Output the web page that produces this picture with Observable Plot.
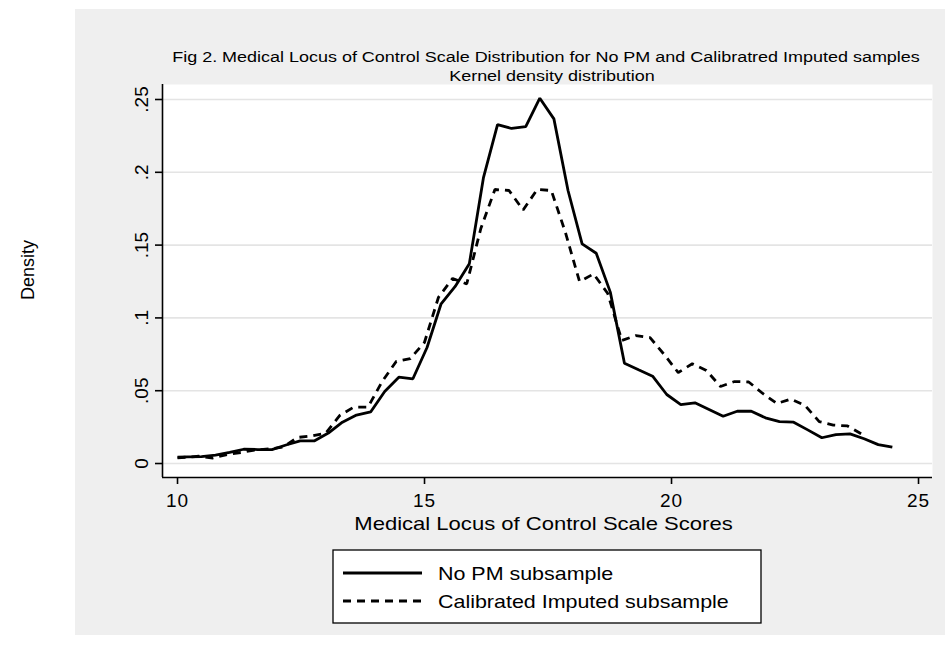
<!DOCTYPE html>
<html><head><meta charset="utf-8">
<script src="https://cdn.jsdelivr.net/npm/d3@7"></script>
<script src="https://cdn.jsdelivr.net/npm/@observablehq/plot@0.6"></script>
<style>
body{margin:0;background:#fff;}
#wrap{position:relative;width:945px;height:645px;background:#fff;overflow:hidden;font-family:"Liberation Sans",Arial,sans-serif;}
#bg{position:absolute;left:75px;top:9px;width:870px;height:626px;background:#efefef;}
#chart{position:absolute;left:0;top:0;}
#ann{position:absolute;left:0;top:0;}
</style></head>
<body><div id="wrap"><div id="bg"></div><div id="chart"></div><svg id="ann" width="945" height="645"></svg></div>
<script>
// Solid curve: No PM subsample (kernel density estimates)
const noPmX = [10.000,10.198,10.484,10.769,11.055,11.340,11.626,11.911,12.196,12.482,12.767,13.053,13.338,13.623,13.909,14.194,14.480,14.765,15.051,15.336,15.621,15.907,16.192,16.478,16.763,17.049,17.334,17.619,17.905,18.190,18.476,18.761,19.047,19.332,19.617,19.903,20.188,20.474,20.759,21.045,21.330,21.615,21.901,22.186,22.472,22.757,23.043,23.328,23.613,23.899,24.184,24.470];
const noPmY = [0.0043,0.0046,0.0048,0.0058,0.0076,0.0098,0.0096,0.0095,0.0127,0.0156,0.0155,0.0209,0.0284,0.0333,0.0354,0.0495,0.0593,0.0582,0.0797,0.1097,0.1216,0.1372,0.1961,0.2328,0.2301,0.2313,0.2509,0.2367,0.1875,0.1509,0.1444,0.1177,0.0689,0.0644,0.0600,0.0474,0.0405,0.0417,0.0371,0.0325,0.0359,0.0359,0.0314,0.0288,0.0284,0.0231,0.0177,0.0199,0.0204,0.0170,0.0130,0.0112];
// Dashed curve: Calibrated Imputed subsample
const calX = [10.000,10.431,10.717,11.002,11.287,11.573,11.858,12.144,12.429,12.715,13.000,13.285,13.571,13.856,14.142,14.427,14.713,14.998,15.283,15.569,15.854,16.140,16.425,16.711,16.996,17.281,17.567,17.852,18.138,18.423,18.709,18.994,19.279,19.565,19.850,20.136,20.421,20.706,20.992,21.277,21.563,21.848,22.134,22.419,22.704,22.990,23.275,23.561,23.846];
const calY = [0.0039,0.0050,0.0038,0.0062,0.0076,0.0093,0.0100,0.0113,0.0179,0.0189,0.0209,0.0330,0.0388,0.0388,0.0563,0.0701,0.0721,0.0831,0.1142,0.1271,0.1233,0.1614,0.1882,0.1875,0.1741,0.1882,0.1875,0.1587,0.1250,0.1302,0.1168,0.0845,0.0879,0.0865,0.0749,0.0625,0.0685,0.0639,0.0529,0.0563,0.0560,0.0481,0.0412,0.0443,0.0398,0.0288,0.0264,0.0258,0.0203];

const yTicks = [0, 0.05, 0.1, 0.15, 0.2, 0.25];
const yTickLabels = ["0", ".05", ".1", ".15", ".2", ".25"];
const xTicks = [10, 15, 20, 25];
const seriesNames = ["No PM subsample", "Calibrated Imputed subsample"];
const titleText = "Fig 2. Medical Locus of Control Scale Distribution for No PM and Calibratred Imputed samples";
const subtitleText = "Kernel density distribution";
const xLabel = "Medical Locus of Control Scale Scores";
const yLabel = "Density";

const xDomain = [9.696, 25.283];
const yDomain = [-0.0096, 0.2603];
const FONT = "Liberation Sans, Arial, sans-serif";

const noPm = noPmX.map((x, i) => ({x, y: noPmY[i]}));
const cal = calX.map((x, i) => ({x, y: calY[i]}));

const chart = Plot.plot({
  width: 945, height: 645,
  marginLeft: 162, marginRight: 13, marginTop: 84, marginBottom: 168,
  style: {background: "transparent", fontFamily: FONT, overflow: "visible"},
  x: {domain: xDomain},
  y: {domain: yDomain},
  marks: [
    Plot.frame({fill: "white", stroke: null}),
    Plot.gridY(yTicks, {stroke: "#e4e4e4", strokeOpacity: 1, strokeWidth: 1.6}),
    Plot.axisY(yTicks, {tickSize: 7, tickFormat: () => "", label: null, stroke: "black", strokeWidth: 1.6}),
    Plot.text(yTicks, {y: d => d, text: (d, i) => yTickLabels[i], frameAnchor: "left", dx: -21, rotate: -90,
      textAnchor: "middle", lineAnchor: "middle", fontSize: 19, fill: "black"}),
    Plot.axisX(xTicks, {tickSize: 7, tickPadding: 9, fontSize: 19, label: null, stroke: "black", strokeWidth: 1.6,
      fill: "black", tickFormat: d => String(d)}),
    Plot.ruleX([xDomain[0]], {stroke: "black", strokeWidth: 1.6}),
    Plot.ruleY([yDomain[0]], {stroke: "black", strokeWidth: 1.6}),
    Plot.line(noPm, {x: "x", y: "y", stroke: "black", strokeWidth: 2.8, strokeLinecap: "butt", strokeLinejoin: "miter"}),
    Plot.line(cal, {x: "x", y: "y", stroke: "black", strokeWidth: 2.8, strokeDasharray: "8,6", strokeLinecap: "butt", strokeLinejoin: "miter"})
  ]
});
d3.select(chart).selectAll("g[aria-label='x-axis tick label'] text").style("letter-spacing", "1px");
document.getElementById("chart").appendChild(chart);

// Annotations: titles, axis titles, legend
const ann = d3.select("#ann").style("font-family", FONT);
const SX = 1.16;
ann.append("text").attr("transform", `translate(546,62) scale(${SX},1)`).attr("text-anchor", "middle")
  .attr("font-size", 15.5).attr("fill", "black").text(titleText);
ann.append("text").attr("transform", `translate(552,81) scale(${SX},1)`).attr("text-anchor", "middle")
  .attr("font-size", 15.5).attr("fill", "black").text(subtitleText);
ann.append("text").attr("transform", `translate(34,270) rotate(-90)`).attr("text-anchor", "middle")
  .attr("font-size", 18).attr("fill", "black").text(yLabel);
ann.append("text").attr("transform", `translate(543.5,530) scale(${SX},1)`).attr("text-anchor", "middle")
  .attr("font-size", 19).attr("fill", "black").text(xLabel);

const lg = ann.append("g");
lg.append("rect").attr("x", 333).attr("y", 550).attr("width", 428).attr("height", 73)
  .attr("fill", "white").attr("stroke", "black").attr("stroke-width", 1.3);
const rows = [{y: 573, dash: null}, {y: 601, dash: "8,6"}];
rows.forEach((r, i) => {
  lg.append("line").attr("x1", 343).attr("x2", 422).attr("y1", r.y).attr("y2", r.y)
    .attr("stroke", "black").attr("stroke-width", 2.8).attr("stroke-dasharray", r.dash);
  lg.append("text").attr("transform", `translate(438,${r.y + 7}) scale(${SX},1)`)
    .attr("font-size", 18.5).attr("fill", "black").text(seriesNames[i]);
});
</script>
</body></html>
